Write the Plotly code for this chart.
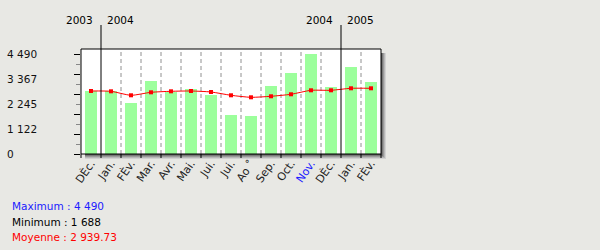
import plotly.graph_objects as go

months = ["DÈc.", "Jan.", "FÈv.", "Mar.", "Avr.", "Mai.", "Jui.", "Jui.", "Ao ˚",
          "Sep.", "Oct.", "Nov.", "DÈc.", "Jan.", "FÈv."]
values = [2829, 2815, 2290, 3278, 2790, 2900, 2640, 1750, 1688, 3050, 3640, 4490, 3000, 3900, 3230]
trend = [2829, 2815, 2636, 2770, 2815, 2829, 2784, 2636, 2546, 2591, 2681, 2860, 2860, 2950, 2950]
y_labels = [0, 1122.5, 2245, 3367.5, 4490]
y_label_text = ["0", "1 122", "2 245", "3 367", "4 490"]
year_breaks = [0.5, 12.5]
years_left = ["2003", "2004"]
years_right = ["2004", "2005"]
max_i = 11
stats = [("Maximum : 4 490", "#2020ff"), ("Minimum : 1 688", "#000000"), ("Moyenne : 2 939.73", "#ff0000")]

W, H = 600, 250
L, R, T, B = 81, 381, 49, 154
pw, ph = R - L, B - T
xmin, xmax = -0.5, len(months) - 0.5
ymax = 4490 * ph / 100.0

def px(X):
    return (X - L) / pw

def py(Y):
    return (B - Y) / ph

def xp(v):
    return (v - xmin) / (xmax - xmin)

font = "DejaVu Sans"
ticktext = [f'<span style="color:#2020ff">{m}</span>' if i == max_i else m for i, m in enumerate(months)]

fig = go.Figure()
fig.add_trace(go.Bar(x=list(range(len(months))), y=values, marker=dict(color="#9cff9c", line=dict(width=0)),
                     width=0.56, showlegend=False))
fig.add_trace(go.Scatter(x=list(range(len(months))), y=trend, mode="lines+markers",
                         line=dict(color="#ff0000", width=1, shape="spline", smoothing=0.6),
                         marker=dict(symbol="square", size=4, color="#ff0000"), showlegend=False))

shapes = []
# shadow
for k, c in enumerate(["#5a5a5a", "#7a7a7a", "#9a9a9a", "#b8b8b8", "#d2d2d2"]):
    shapes.append(dict(type="rect", xref="paper", yref="paper", x0=px(R + k), x1=px(R + k + 1),
                       y0=py(B + 5), y1=py(T + 4), fillcolor=c, line=dict(width=0), layer="above"))
    shapes.append(dict(type="rect", xref="paper", yref="paper", x0=px(L + 4), x1=px(R + 5),
                       y0=py(B + k + 1), y1=py(B + k), fillcolor=c, line=dict(width=0), layer="above"))
# grid lines
for i in range(len(months) - 1):
    b = i + 0.5
    if b in year_breaks:
        continue
    shapes.append(dict(type="line", xref="x", yref="paper", x0=b, x1=b, y0=0, y1=1,
                       line=dict(color="#909090", width=1, dash="4px,3px"), layer="below"))
# bottom ticks
for i in range(len(months) + 1):
    b = i - 0.5
    shapes.append(dict(type="line", xref="paper", yref="paper", x0=xp(b), x1=xp(b), y0=0, y1=py(B + 4),
                       line=dict(color="#000000", width=1)))
# year lines
for b in year_breaks:
    shapes.append(dict(type="line", xref="paper", yref="paper", x0=xp(b), x1=xp(b), y0=0, y1=py(25),
                       line=dict(color="#000000", width=1)))
# frame
shapes.append(dict(type="rect", xref="paper", yref="paper", x0=0, x1=1, y0=0, y1=1,
                   line=dict(color="#000000", width=1), layer="above"))

annotations = []
for v, t in zip(y_labels, y_label_text):
    annotations.append(dict(x=px(5), y=v, xref="paper", yref="y", text=t, showarrow=False,
                            xanchor="left", yanchor="middle", font=dict(family=font, size=10.5, color="#111")))
for b, l, r in zip(year_breaks, years_left, years_right):
    annotations.append(dict(x=xp(b), y=py(20), xref="paper", yref="paper", text=l, showarrow=False,
                            xanchor="right", yanchor="middle", xshift=-6, font=dict(family=font, size=10.5, color="#000")))
    annotations.append(dict(x=xp(b), y=py(20), xref="paper", yref="paper", text=r, showarrow=False,
                            xanchor="left", yanchor="middle", xshift=4, font=dict(family=font, size=10.5, color="#000")))
for k, (t, c) in enumerate(stats):
    annotations.append(dict(x=px(10), y=py(206 + 15.5 * k), xref="paper", yref="paper", text=t, showarrow=False,
                            xanchor="left", yanchor="middle", font=dict(family=font, size=10.5, color=c)))

fig.update_layout(
    width=W, height=H, margin=dict(l=L, r=W - R, t=T, b=H - B),
    paper_bgcolor="#e8e8e4", plot_bgcolor="#ffffff",
    shapes=shapes, annotations=annotations, bargap=0,
    xaxis=dict(range=[xmin, xmax], tickmode="array", tickvals=list(range(len(months))), ticktext=ticktext,
               tickangle=-55, ticks="", showgrid=False, zeroline=False, showline=False,
               tickfont=dict(family=font, size=11, color="#222")),
    yaxis=dict(range=[0, ymax], tickmode="array", tickvals=[0, 898, 1796, 2694, 3592, 4490],
               ticks="outside", ticklen=6, tickcolor="#000", tickwidth=1, showticklabels=False,
               minor=dict(tickvals=[449, 1347, 2245, 3143, 4041], ticks="outside", ticklen=4, tickcolor="#888"),
               showgrid=False, zeroline=False, showline=False),
)
fig.write_html("out.html")
